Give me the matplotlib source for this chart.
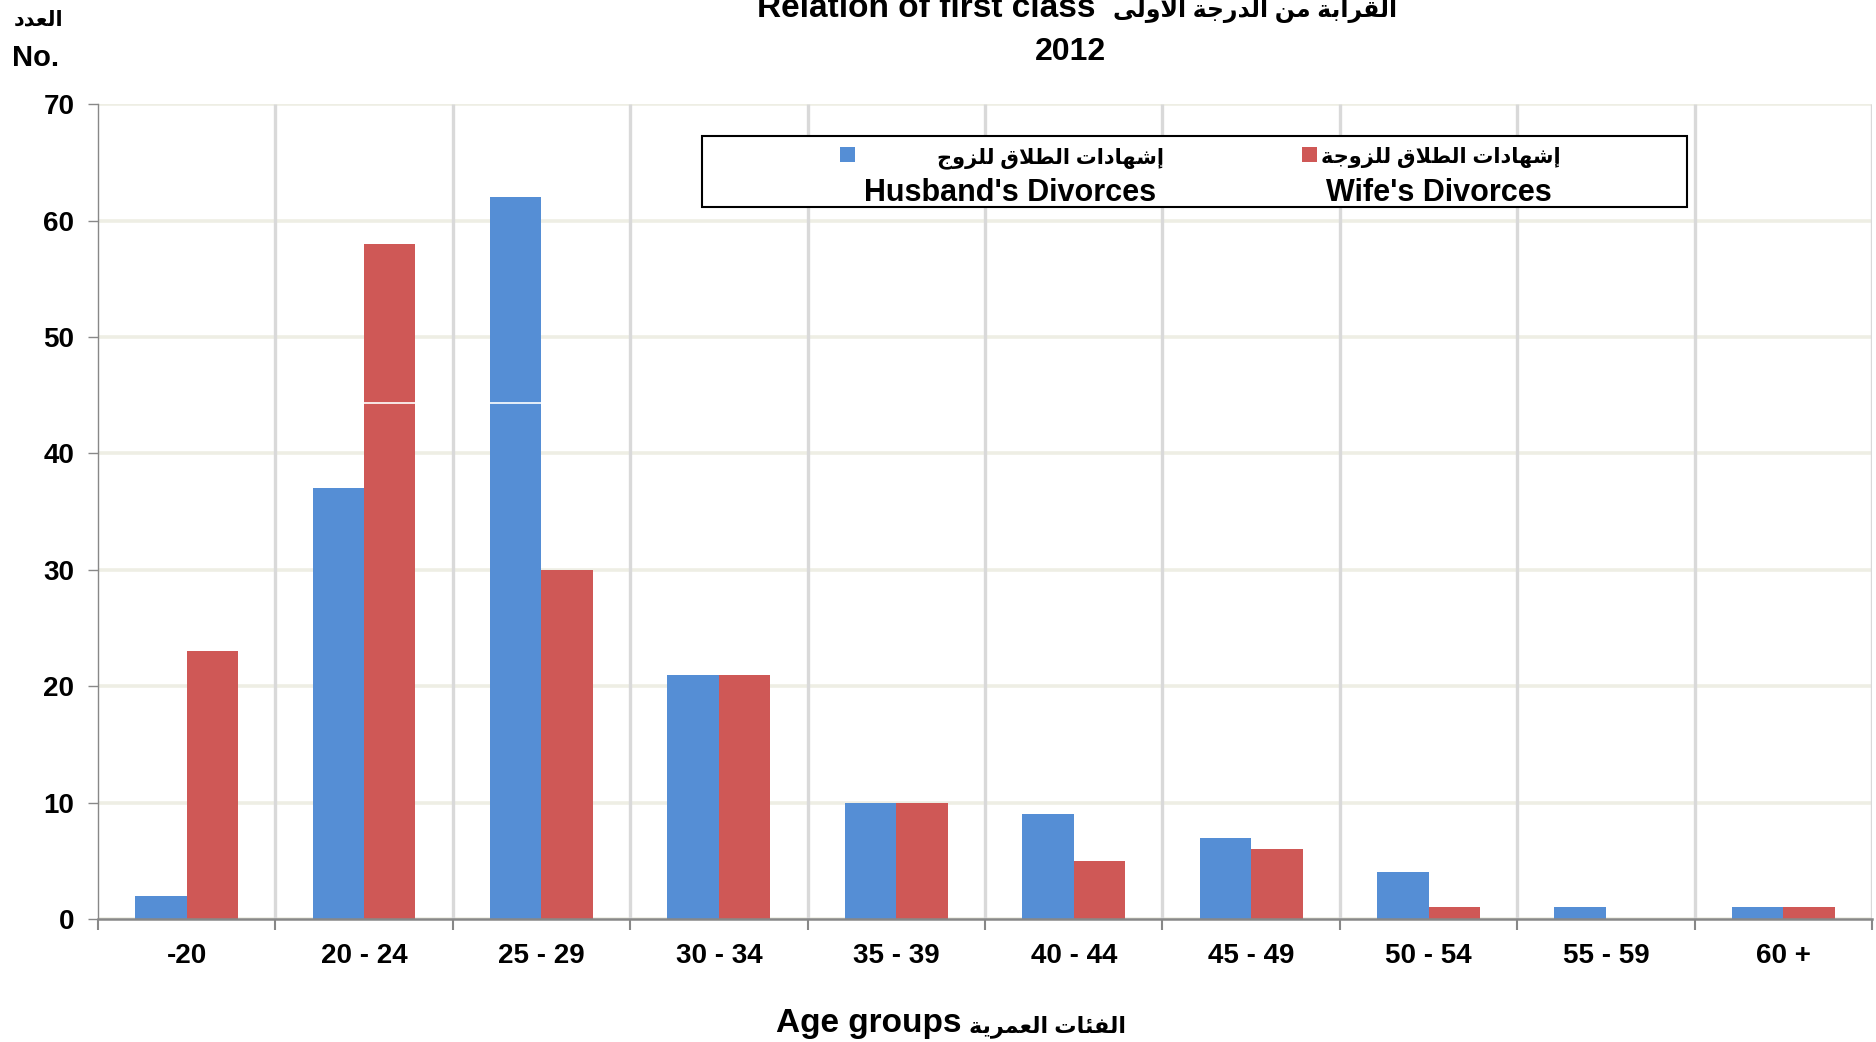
import numpy as np
import matplotlib
matplotlib.use('Agg')
import matplotlib.pyplot as plt
from matplotlib.patches import Rectangle

# --- Donnees ---
age_groups = ['-20', '20 - 24', '25 - 29', '30 - 34', '35 - 39',
              '40 - 44', '45 - 49', '50 - 54', '55 - 59', '60 +']
husband = [2, 37, 62, 21, 10, 9, 7, 4, 1, 1]
wife = [23, 58, 30, 21, 10, 5, 6, 1, 0, 1]
y_ticks = [0, 10, 20, 30, 40, 50, 60, 70]

BLUE = '#558ED5'
RED = '#CF5856'

# matplotlib ne fait pas le "shaping" arabe : on passe par les formes de presentation
# (isole, final, initial, medial) ; None = la lettre ne se lie pas a la suivante
FORMS = {
    'ا': ('\uFE8D', '\uFE8E', None, None),
    'أ': ('\uFE83', '\uFE84', None, None),
    'إ': ('\uFE87', '\uFE88', None, None),
    'ب': ('\uFE8F', '\uFE90', '\uFE91', '\uFE92'),
    'ة': ('\uFE93', '\uFE94', None, None),
    'ت': ('\uFE95', '\uFE96', '\uFE97', '\uFE98'),
    'ج': ('\uFE9D', '\uFE9E', '\uFE9F', '\uFEA0'),
    'د': ('\uFEA9', '\uFEAA', None, None),
    'ر': ('\uFEAD', '\uFEAE', None, None),
    'ز': ('\uFEAF', '\uFEB0', None, None),
    'ش': ('\uFEB5', '\uFEB6', '\uFEB7', '\uFEB8'),
    'ط': ('\uFEC1', '\uFEC2', '\uFEC3', '\uFEC4'),
    'ع': ('\uFEC9', '\uFECA', '\uFECB', '\uFECC'),
    'ف': ('\uFED1', '\uFED2', '\uFED3', '\uFED4'),
    'ق': ('\uFED5', '\uFED6', '\uFED7', '\uFED8'),
    'ل': ('\uFEDD', '\uFEDE', '\uFEDF', '\uFEE0'),
    'م': ('\uFEE1', '\uFEE2', '\uFEE3', '\uFEE4'),
    'ن': ('\uFEE5', '\uFEE6', '\uFEE7', '\uFEE8'),
    'ه': ('\uFEE9', '\uFEEA', '\uFEEB', '\uFEEC'),
    'و': ('\uFEED', '\uFEEE', None, None),
    'ى': ('\uFEEF', '\uFEF0', None, None),
    'ي': ('\uFEF1', '\uFEF2', '\uFEF3', '\uFEF4'),
    'ئ': ('\uFE89', '\uFE8A', '\uFE8B', '\uFE8C'),
}
LAM_ALEF = {'ا': ('\uFEFB', '\uFEFC'), 'أ': ('\uFEF7', '\uFEF8'), 'إ': ('\uFEF9', '\uFEFA')}


def shape(text):
    out = []
    i = 0
    prev_joins = False
    while i < len(text):
        c = text[i]
        nxt = text[i + 1] if i + 1 < len(text) else ''
        if c not in FORMS:
            out.append(c)
            prev_joins = False
            i += 1
            continue
        if c == 'ل' and nxt in LAM_ALEF:
            out.append(LAM_ALEF[nxt][1 if prev_joins else 0])
            prev_joins = False
            i += 2
            continue
        iso, fin, ini, med = FORMS[c]
        next_joins = ini is not None and nxt in FORMS
        if prev_joins and next_joins:
            out.append(med)
        elif prev_joins:
            out.append(fin)
        elif next_joins:
            out.append(ini)
        else:
            out.append(iso)
        prev_joins = next_joins
        i += 1
    return ''.join(reversed(out))


plt.rcParams['font.family'] = ['Liberation Sans', 'DejaVu Sans']
plt.rcParams['font.weight'] = 'bold'

W, H = 1876, 1042  # taille en pixels, pour placer les textes
fig = plt.figure(figsize=(W / 100, H / 100), dpi=100)
ax = fig.add_axes([0.0522, 0.118, 0.9457, 0.782])

x = np.arange(len(age_groups))
w = 0.29
ax.bar(x - w / 2, husband, w, color=BLUE, zorder=2)
ax.bar(x + w / 2, wife, w, color=RED, zorder=2)
# fine ligne blanche visible dans l'original
ax.axhline(44.3, color='white', lw=1.2, zorder=2.5)

ax.set_xlim(-0.5, len(age_groups) - 0.5)
ax.set_ylim(0, 70)
ax.set_yticks(y_ticks)
ax.set_xticks(x)
ax.set_xticklabels(age_groups)
bounds = np.arange(-0.5, len(age_groups))
ax.set_xticks(bounds, minor=True)

ax.tick_params(axis='x', which='major', length=0, pad=17, labelsize=20)
ax.tick_params(axis='x', which='minor', length=8, width=1.5, color='#888888')
ax.tick_params(axis='y', length=7, width=1, color='#888888', pad=10, labelsize=20)

ax.set_axisbelow(True)
ax.grid(axis='y', color='#EEEEE4', lw=2.6)
# separations verticales entre groupes (au-dessus de la ligne blanche)
ax.vlines(bounds[1:], 0, 70, colors='#D9D9D9', lw=2.4, zorder=3)
for s in ['top', 'right']:
    ax.spines[s].set_visible(False)
ax.spines['left'].set_color('#888888')
ax.spines['left'].set_linewidth(1.0)
ax.spines['bottom'].set_color('#888888')
ax.spines['bottom'].set_linewidth(1.8)
ax.spines['left'].set_zorder(4)
ax.spines['bottom'].set_zorder(4)

# --- Titres ---
fig.text(1095 / W, 1 - 17 / H, 'Relation of first class', ha='right', va='baseline',
         fontsize=24, fontweight='bold')
fig.text(1113 / W, 1 - 17 / H, shape('القرابة من الدرجة الأولى'), ha='left', va='baseline',
         fontsize=17, fontweight='bold')
fig.text(1070 / W, 1 - 60 / H, '2012', ha='center', va='baseline', fontsize=23, fontweight='bold')
fig.text(14 / W, 1 - 25 / H, shape('العدد'), ha='left', va='baseline', fontsize=15, fontweight='bold')
fig.text(12 / W, 1 - 66 / H, 'No.', ha='left', va='baseline', fontsize=21, fontweight='bold')
fig.text(961 / W, 1 - 1032 / H, 'Age groups', ha='right', va='baseline', fontsize=24, fontweight='bold')
fig.text(969 / W, 1 - 1032 / H, shape('الفئات العمرية'), ha='left', va='baseline',
         fontsize=16, fontweight='bold')

# --- Legende (dessinee a la main : marqueur sur la ligne arabe) ---
fig.patches.append(Rectangle((702 / W, 1 - 207 / H), 985 / W, 71 / H, transform=fig.transFigure,
                             facecolor='white', edgecolor='black', lw=1.5, zorder=5))
mk, mh = 15 / W, 15 / H
for col, lbl_ar, lbl_en, mx, ar_right, en_c in [
        (BLUE, 'إشهادات الطلاق للزوج', "Husband's Divorces", 847, 1164, 1010),
        (RED, 'إشهادات الطلاق للزوجة', "Wife's Divorces", 1309, 1561, 1439)]:
    fig.patches.append(Rectangle((mx / W - mk / 2, 1 - 154 / H - mh / 2), mk, mh,
                                 transform=fig.transFigure, facecolor=col, edgecolor='none', zorder=6))
    fig.text(ar_right / W, 1 - 163 / H, shape(lbl_ar), ha='right', va='baseline',
             fontsize=15, fontweight='bold', zorder=6)
    fig.text(en_c / W, 1 - 201 / H, lbl_en, ha='center', va='baseline',
             fontsize=22, fontweight='bold', zorder=6)

plt.savefig('out.png', dpi=100)
